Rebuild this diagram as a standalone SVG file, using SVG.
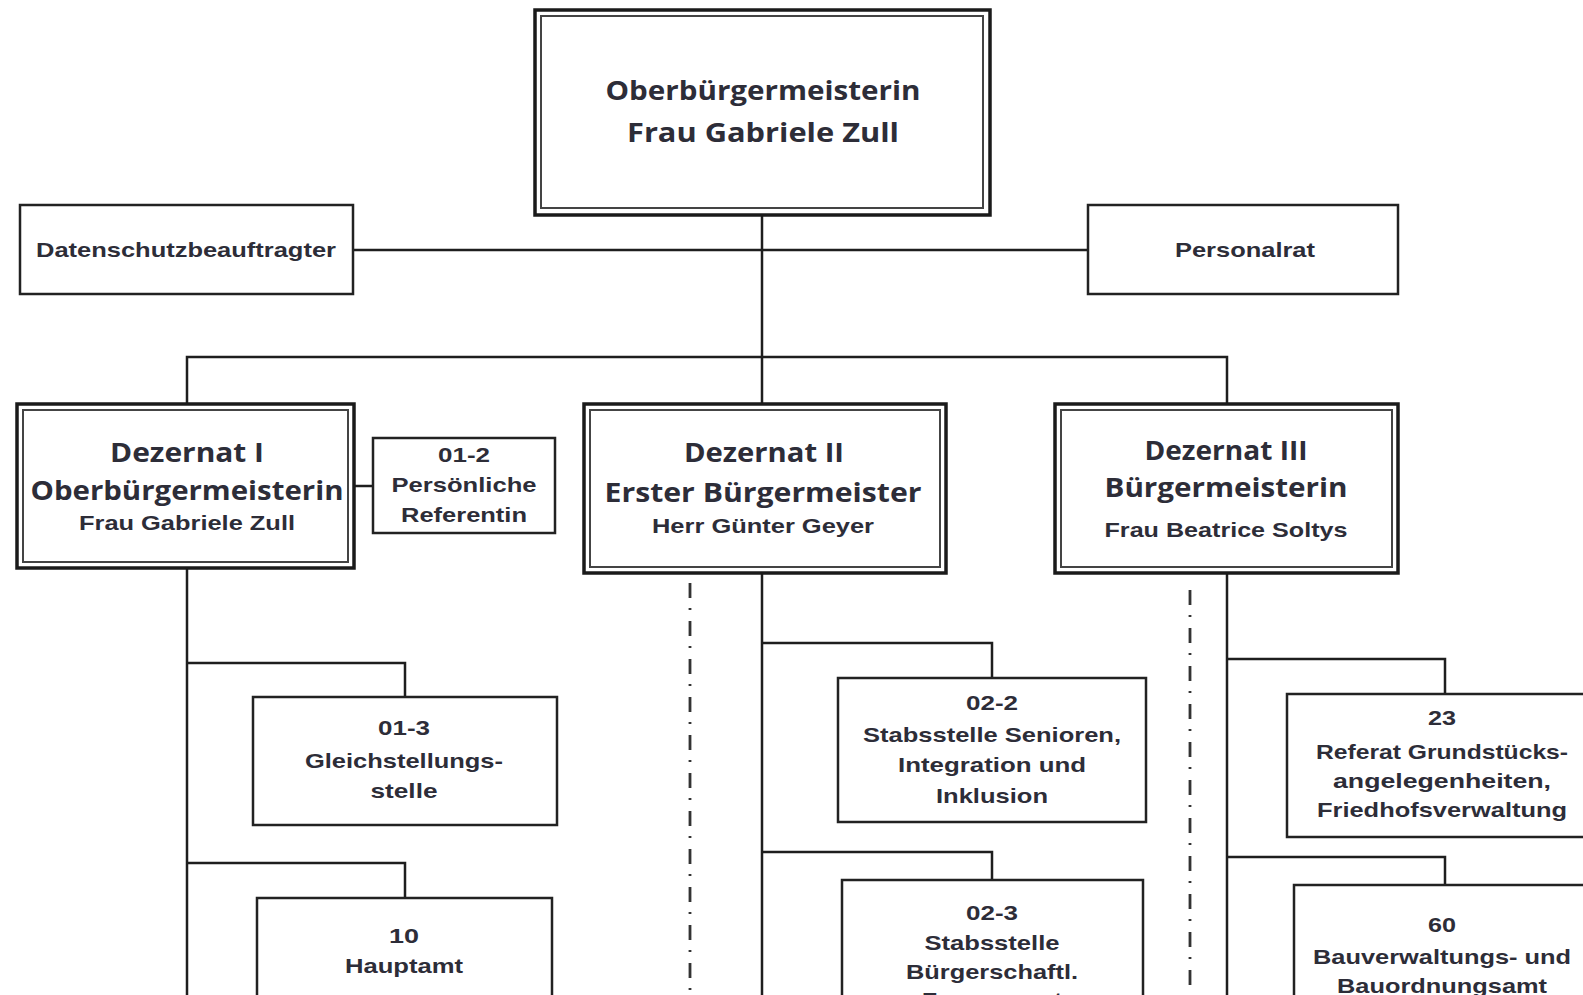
<svg xmlns="http://www.w3.org/2000/svg" width="1583" height="995" viewBox="0 0 1583 995">
<style>
.bg{fill:#ffffff}
.box{fill:#ffffff;stroke:#222222;stroke-width:2.5}
.outer{fill:#ffffff;stroke:#1a1a1a;stroke-width:3.5}
.inner{fill:none;stroke:#444444;stroke-width:2}
.ln{fill:none;stroke:#1e1e1e;stroke-width:2.5}
.dash{fill:none;stroke:#333333;stroke-width:2.8;stroke-dasharray:15 10 2 11}
.t{font-family:"Liberation Sans",Arial,sans-serif;font-weight:700;font-size:21px;fill:#2d2d38;text-anchor:middle}
.h{font-family:"Open Sans","DejaVu Sans",sans-serif;font-weight:700;font-size:27px;fill:#2d2d38;text-anchor:middle}
</style>
<rect class="bg" x="0" y="0" width="1583" height="995"/>

<g id="connectors">
  <line class="ln" x1="353" y1="250" x2="1088" y2="250"/>
  <line class="ln" x1="762" y1="215" x2="762" y2="405"/>
  <polyline class="ln" points="187,405 187,357 1227,357 1227,405"/>
  <line class="ln" x1="354" y1="486" x2="373" y2="486"/>
  <line class="ln" x1="187" y1="568" x2="187" y2="995"/>
  <polyline class="ln" points="187,663 405,663 405,697"/>
  <polyline class="ln" points="187,863 405,863 405,898"/>
  <line class="ln" x1="762" y1="573" x2="762" y2="995"/>
  <polyline class="ln" points="762,643 992,643 992,678"/>
  <polyline class="ln" points="762,852 992,852 992,880"/>
  <line class="ln" x1="1227" y1="573" x2="1227" y2="995"/>
  <polyline class="ln" points="1227,659 1445,659 1445,694"/>
  <polyline class="ln" points="1227,857 1445,857 1445,885"/>
  <line class="dash" x1="690" y1="583" x2="690" y2="995"/>
  <line class="dash" x1="1190" y1="590" x2="1190" y2="995"/>
</g>

<g id="oberbuergermeisterin">
  <rect class="outer" x="535" y="10" width="455" height="205"/>
  <rect class="inner" x="541" y="16" width="442" height="192"/>
  <text class="h" x="763" y="100" font-size="28" textLength="315" lengthAdjust="spacingAndGlyphs">Oberbürgermeisterin</text>
  <text class="h" x="763" y="142" font-size="28" textLength="272" lengthAdjust="spacingAndGlyphs">Frau Gabriele Zull</text>
</g>

<g id="datenschutz">
  <rect class="box" x="20" y="205" width="333" height="89"/>
  <text class="t" x="186" y="257" textLength="300" lengthAdjust="spacingAndGlyphs">Datenschutzbeauftragter</text>
</g>

<g id="personalrat">
  <rect class="box" x="1088" y="205" width="310" height="89"/>
  <text class="t" x="1245" y="257" textLength="140" lengthAdjust="spacingAndGlyphs">Personalrat</text>
</g>

<g id="dezernat1">
  <rect class="outer" x="17" y="404" width="337" height="164"/>
  <rect class="inner" x="23" y="410" width="325" height="152"/>
  <text class="h" x="187" y="462" textLength="154" lengthAdjust="spacingAndGlyphs">Dezernat I</text>
  <text class="h" x="187" y="500" textLength="313" lengthAdjust="spacingAndGlyphs">Oberbürgermeisterin</text>
  <text class="t" x="187" y="530" textLength="216" lengthAdjust="spacingAndGlyphs">Frau Gabriele Zull</text>
</g>

<g id="n01-2">
  <rect class="box" x="373" y="438" width="182" height="95"/>
  <text class="t" x="464" y="462" textLength="52" lengthAdjust="spacingAndGlyphs">01-2</text>
  <text class="t" x="464" y="492" textLength="145" lengthAdjust="spacingAndGlyphs">Persönliche</text>
  <text class="t" x="464" y="522" textLength="126" lengthAdjust="spacingAndGlyphs">Referentin</text>
</g>

<g id="dezernat2">
  <rect class="outer" x="584" y="404" width="362" height="169"/>
  <rect class="inner" x="590" y="410" width="350" height="157"/>
  <text class="h" x="764" y="462" textLength="160" lengthAdjust="spacingAndGlyphs">Dezernat II</text>
  <text class="h" x="763" y="502" textLength="317" lengthAdjust="spacingAndGlyphs">Erster Bürgermeister</text>
  <text class="t" x="763" y="533" textLength="222" lengthAdjust="spacingAndGlyphs">Herr Günter Geyer</text>
</g>

<g id="dezernat3">
  <rect class="outer" x="1055" y="404" width="343" height="169"/>
  <rect class="inner" x="1061" y="410" width="331" height="157"/>
  <text class="h" x="1226" y="460" textLength="163" lengthAdjust="spacingAndGlyphs">Dezernat III</text>
  <text class="h" x="1226" y="497" textLength="243" lengthAdjust="spacingAndGlyphs">Bürgermeisterin</text>
  <text class="t" x="1226" y="537" textLength="243" lengthAdjust="spacingAndGlyphs">Frau Beatrice Soltys</text>
</g>

<g id="n01-3">
  <rect class="box" x="253" y="697" width="304" height="128"/>
  <text class="t" x="404" y="735" textLength="52" lengthAdjust="spacingAndGlyphs">01-3</text>
  <text class="t" x="404" y="768" textLength="198" lengthAdjust="spacingAndGlyphs">Gleichstellungs-</text>
  <text class="t" x="404" y="798" textLength="67" lengthAdjust="spacingAndGlyphs">stelle</text>
</g>

<g id="n10">
  <rect class="box" x="257" y="898" width="295" height="110"/>
  <text class="t" x="404" y="943" textLength="30" lengthAdjust="spacingAndGlyphs">10</text>
  <text class="t" x="404" y="973" textLength="118" lengthAdjust="spacingAndGlyphs">Hauptamt</text>
</g>

<g id="n02-2">
  <rect class="box" x="838" y="678" width="308" height="144"/>
  <text class="t" x="992" y="710" textLength="52" lengthAdjust="spacingAndGlyphs">02-2</text>
  <text class="t" x="992" y="742" textLength="258" lengthAdjust="spacingAndGlyphs">Stabsstelle Senioren,</text>
  <text class="t" x="992" y="772" textLength="188" lengthAdjust="spacingAndGlyphs">Integration und</text>
  <text class="t" x="992" y="803" textLength="112" lengthAdjust="spacingAndGlyphs">Inklusion</text>
</g>

<g id="n02-3">
  <rect class="box" x="842" y="880" width="301" height="130"/>
  <text class="t" x="992" y="920" textLength="52" lengthAdjust="spacingAndGlyphs">02-3</text>
  <text class="t" x="992" y="950" textLength="135" lengthAdjust="spacingAndGlyphs">Stabsstelle</text>
  <text class="t" x="992" y="979" textLength="172" lengthAdjust="spacingAndGlyphs">Bürgerschaftl.</text>
  <text class="t" x="992" y="1007" textLength="140" lengthAdjust="spacingAndGlyphs">Engagement</text>
</g>

<g id="n23">
  <rect class="box" x="1287" y="694" width="320" height="143"/>
  <text class="t" x="1442" y="725" textLength="28" lengthAdjust="spacingAndGlyphs">23</text>
  <text class="t" x="1442" y="759" textLength="252" lengthAdjust="spacingAndGlyphs">Referat Grundstücks-</text>
  <text class="t" x="1442" y="788" textLength="218" lengthAdjust="spacingAndGlyphs">angelegenheiten,</text>
  <text class="t" x="1442" y="817" textLength="250" lengthAdjust="spacingAndGlyphs">Friedhofsverwaltung</text>
</g>

<g id="n60">
  <rect class="box" x="1294" y="885" width="320" height="130"/>
  <text class="t" x="1442" y="932" textLength="28" lengthAdjust="spacingAndGlyphs">60</text>
  <text class="t" x="1442" y="964" textLength="258" lengthAdjust="spacingAndGlyphs">Bauverwaltungs- und</text>
  <text class="t" x="1442" y="993" textLength="210" lengthAdjust="spacingAndGlyphs">Bauordnungsamt</text>
</g>
</svg>
